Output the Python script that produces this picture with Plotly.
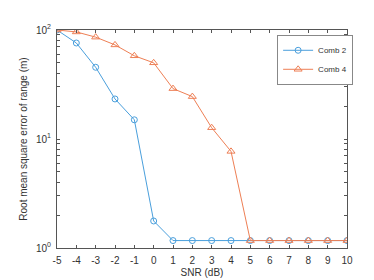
import plotly.graph_objects as go

snr = [-5, -4, -3, -2, -1, 0, 1, 2, 3, 4, 5, 6, 7, 8, 9, 10]
comb2 = [100, 76, 45.5, 23.3, 15.0, 1.77, 1.17, 1.17, 1.17, 1.17, 1.17, 1.17, 1.17, 1.17, 1.17, 1.17]
comb4 = [100, 96, 86, 73, 58, 50, 29, 24.5, 12.7, 7.7, 1.17, 1.17, 1.17, 1.17, 1.17, 1.17]
x_ticks = list(range(-5, 11))
x_labels = [str(v) for v in x_ticks]
y_ticks = [1, 2, 3, 4, 5, 6, 7, 8, 9, 10, 20, 30, 40, 50, 60, 70, 80, 90, 100]
y_labels = ["10<sup>0</sup>", "", "", "", "", "", "", "", "",
            "10<sup>1</sup>", "", "", "", "", "", "", "", "",
            "10<sup>2</sup>"]

blue = "#4A9FDC"
orange = "#EE7F55"

fig = go.Figure()
fig.add_trace(go.Scatter(x=snr, y=comb2, name="Comb 2", mode="lines+markers",
                         line=dict(color=blue, width=1),
                         marker=dict(symbol="circle-open", size=6, color=blue, line=dict(width=1))))
fig.add_trace(go.Scatter(x=snr, y=comb4, name="Comb 4", mode="lines+markers",
                         line=dict(color=orange, width=1),
                         marker=dict(symbol="triangle-up-open", size=7, color=orange, line=dict(width=1))))

axis_common = dict(showline=True, linecolor="#555555", linewidth=1, mirror="ticks",
                   ticks="inside", ticklen=3, tickcolor="#555555", showgrid=False, zeroline=False,
                   tickfont=dict(size=10, color="#333333"))

fig.update_layout(
    width=374, height=280,
    margin=dict(l=49, r=35, t=22, b=32),
    paper_bgcolor="white", plot_bgcolor="white",
    font=dict(family="Liberation Sans, Arial, sans-serif", size=10, color="#333333"),
    xaxis=dict(range=[-5, 10], tickvals=x_ticks, ticktext=x_labels, ticklabelstandoff=3,
               title=dict(text="SNR (dB)", font=dict(size=10), standoff=3), **axis_common),
    yaxis=dict(type="log", range=[0, 2], tickvals=y_ticks, ticktext=y_labels, ticklabelstandoff=3,
               title=dict(text="Root mean square error of range (m)", font=dict(size=10), standoff=6),
               **axis_common),
    legend=dict(x=0.759, y=0.978, xanchor="left", yanchor="top",
                bgcolor="white", bordercolor="#888888", borderwidth=1,
                font=dict(size=8, color="#333333"), tracegroupgap=0,
                itemwidth=30),
    showlegend=True,
)

fig.write_html("out.html")
